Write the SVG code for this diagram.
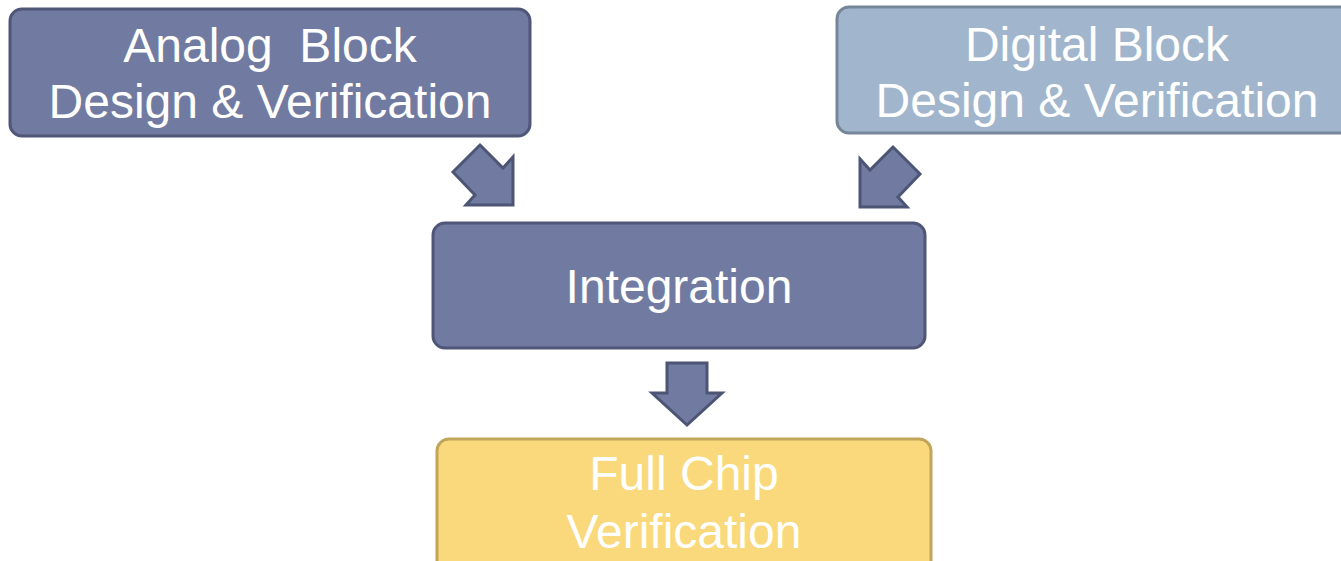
<svg xmlns="http://www.w3.org/2000/svg" width="1341" height="561" viewBox="0 0 1341 561">
  <style>
    .box { stroke-width: 3; }
    .navy { fill: #717ba1; stroke: #4f5677; }
    .steel { fill: #a1b6cc; stroke: #76869a; }
    .gold { fill: #f9d97c; stroke: #c0a55a; }
    .label { font-family: "Liberation Sans", Arial, sans-serif; font-size: 48px; fill: #ffffff; text-anchor: middle; }
    .arrow { fill: #717ba1; stroke: #4d5574; stroke-width: 3; stroke-linejoin: miter; }
  </style>
  <rect width="1341" height="561" fill="#ffffff"/>

  <g id="analog-block">
    <rect class="box navy" x="10" y="9" width="520" height="127" rx="12"/>
    <text class="label" x="270" y="62" xml:space="preserve">Analog  Block</text>
    <text class="label" x="270" y="118">Design &amp; Verification</text>
  </g>

  <g id="digital-block">
    <rect class="box steel" x="837" y="7" width="520" height="126" rx="12"/>
    <text class="label" x="1097" y="61">Digital Block</text>
    <text class="label" x="1097" y="117">Design &amp; Verification</text>
  </g>

  <g id="integration">
    <rect class="box navy" x="433" y="223" width="492" height="125" rx="12"/>
    <text class="label" x="679" y="303">Integration</text>
  </g>

  <g id="full-chip">
    <rect class="box gold" x="437" y="439" width="494" height="140" rx="12"/>
    <text class="label" x="684" y="490">Full Chip</text>
    <text class="label" x="684" y="548">Verification</text>
  </g>

  <g id="connectors">
    <polygon class="arrow" points="480,145 503,168 513,157 513,205 466,205 475,195 453,172"/>
    <polygon class="arrow" points="893,147 870,170 860,159 860,207 907,207 898,197 920,174"/>
    <polygon class="arrow" points="667,363 707,363 707,393 722,393 687,425 652,393 667,393"/>
  </g>
</svg>
